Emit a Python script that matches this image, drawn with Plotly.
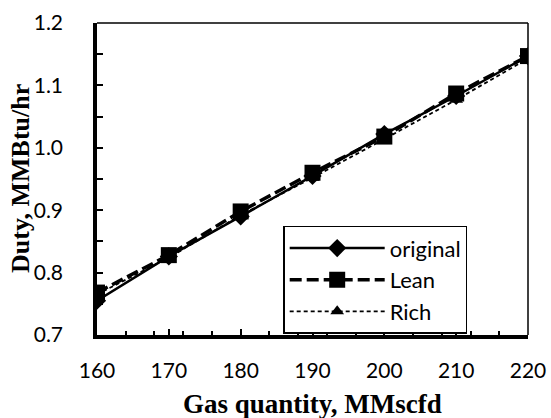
import plotly.graph_objects as go

gas_quantity = [160, 170, 180, 190, 200, 210, 220]
duty_original = [0.755, 0.826, 0.890, 0.955, 1.022, 1.083, 1.147]
duty_lean = [0.768, 0.828, 0.898, 0.960, 1.018, 1.087, 1.147]
duty_rich = [0.765, 0.824, 0.892, 0.952, 1.014, 1.077, 1.143]

series_names = ["original", "Lean", "Rich"]
x_title = "Gas quantity, MMscfd"
y_title = "Duty, MMBtu/hr"
x_ticks = [160, 170, 180, 190, 200, 210, 220]
y_ticks = [0.7, 0.8, 0.9, 1.0, 1.1, 1.2]
y_tick_text = ["0.7", "0.8", "0.9", "1.0", "1.1", "1.2"]

fig = go.Figure()
fig.add_trace(go.Scatter(
    x=gas_quantity, y=duty_original, name=series_names[0], mode="lines+markers",
    line=dict(color="black", width=2.5, dash="solid"),
    marker=dict(symbol="diamond", size=14, color="black"),
))
fig.add_trace(go.Scatter(
    x=gas_quantity, y=duty_lean, name=series_names[1], mode="lines+markers",
    line=dict(color="black", width=3.5, dash="12px,5px"),
    marker=dict(symbol="square", size=16, color="black"),
))
fig.add_trace(go.Scatter(
    x=gas_quantity, y=duty_rich, name=series_names[2], mode="lines+markers",
    line=dict(color="black", width=1.8, dash="4px,3px"),
    marker=dict(symbol="triangle-up", size=12, color="black"),
))

tick_font = dict(family="Lato", size=21, color="black")
x_title_font = dict(family="Liberation Serif", size=27, color="black", weight="bold")
y_title_font = dict(family="Liberation Serif", size=26, color="black", weight="bold")

fig.update_layout(
    width=551, height=418,
    margin=dict(l=97, r=23, t=23, b=83),
    paper_bgcolor="white", plot_bgcolor="white",
    showlegend=True,
    legend=dict(
        x=0.432, y=0.35, xanchor="left", yanchor="top",
        bordercolor="black", borderwidth=1.5, bgcolor="white",
        font=dict(family="Lato", size=22, color="black"),
        itemwidth=95, tracegroupgap=0,
    ),
    xaxis=dict(
        range=[160, 220], tickvals=x_ticks, ticks="inside", ticklen=6, tickwidth=2,
        tickcolor="black", showline=True, linecolor="black", linewidth=3.5,
        showgrid=False, zeroline=False, tickfont=tick_font, ticklabelstandoff=14,
        automargin=False,
        minor=dict(dtick=4, tick0=160, ticks="inside", ticklen=4, tickwidth=2, tickcolor="black", showgrid=False),
    ),
    yaxis=dict(
        range=[0.7, 1.2], tickvals=y_ticks, ticktext=y_tick_text, ticks="inside", ticklen=6, tickwidth=2,
        tickcolor="black", showline=True, linecolor="black", linewidth=3.5,
        showgrid=False, zeroline=False, tickfont=tick_font, ticklabelstandoff=26,
        automargin=False,
        minor=dict(dtick=0.05, tick0=0.7, ticks="inside", ticklen=6, tickwidth=2, tickcolor="black", showgrid=False),
    ),
    annotations=[
        dict(text=x_title, xref="paper", yref="paper", x=0.5, y=0, xanchor="center", yanchor="top",
             yshift=-52, showarrow=False, font=x_title_font),
        dict(text=y_title, xref="paper", yref="paper", x=0, y=0.5, xanchor="center", yanchor="middle",
             xshift=-77, textangle=-90, showarrow=False, font=y_title_font),
    ],
    shapes=[
        dict(type="line", xref="paper", yref="paper", x0=0, x1=1, y0=1, y1=1, line=dict(color="black", width=1.5)),
        dict(type="line", xref="paper", yref="paper", x0=1, x1=1, y0=0, y1=1, line=dict(color="black", width=1.5)),
    ],
)

fig.write_html("out.html", config={"displayModeBar": False},
               post_script="document.body.style.margin='0px';")
